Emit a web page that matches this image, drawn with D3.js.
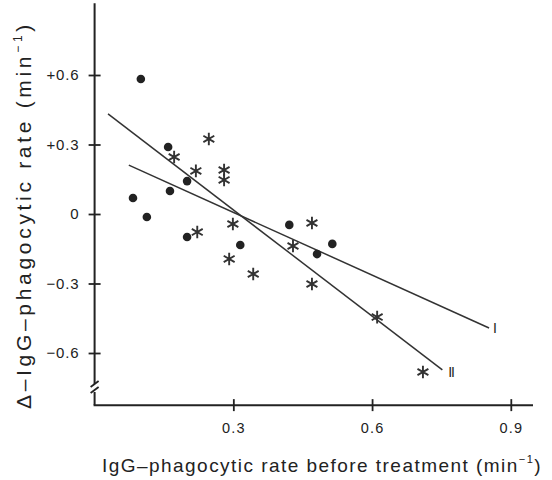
<!DOCTYPE html>
<html>
<head>
<meta charset="utf-8">
<script src="https://cdn.jsdelivr.net/npm/d3@7/dist/d3.min.js"></script>
<style>
  body { margin: 0; background: #fff; }
  text { font-family: "Liberation Sans", Arial, sans-serif; fill: #222; }
</style>
</head>
<body>
<div id="chart"></div>
<script>
// data
const xTicks = [0.3, 0.6, 0.9];
const xTickLabels = ["0.3", "0.6", "0.9"];
const yTicks = [0.6, 0.3, 0, -0.3, -0.6];
const yTickLabels = ["+0.6", "+0.3", "0", "\u22120.3", "\u22120.6"];

// filled dots
const dotX = [0.100, 0.159, 0.200, 0.163, 0.083, 0.113, 0.200, 0.315, 0.421, 0.514, 0.481];
const dotY = [0.583, 0.289, 0.142, 0.099, 0.069, -0.013, -0.099, -0.134, -0.047, -0.129, -0.173];

// asterisks
const starX = [0.247, 0.172, 0.219, 0.280, 0.280, 0.299, 0.222, 0.470, 0.429, 0.291, 0.343, 0.470, 0.611, 0.710];
const starY = [0.324, 0.246, 0.186, 0.190, 0.147, -0.043, -0.078, -0.039, -0.138, -0.194, -0.259, -0.302, -0.445, -0.682];

// regression lines (end points)
const lineIX = [0.074, 0.853];
const lineIY = [0.211, -0.492];
const lineIIX = [0.029, 0.752];
const lineIIY = [0.432, -0.673];

const xMax = 0.948;
const yTop = 0.91, yBottom = -0.825;

// spread a text out to a given length with letter-spacing
function fit_text(sel, target) {
    const n = sel.text().length;
    const len = sel.node().getComputedTextLength();
    sel.attr("letter-spacing", Math.max(0, (target - len) / n));
}

function draw_chart(id) {
    const W = 552, H = 480;
    const ink = "#222";

    const svg = d3.select("#" + id)
        .append("svg")
        .attr("width", W)
        .attr("height", H);

    // scales
    const x = d3.scaleLinear().domain([0, xMax]).range([94.6, 533]);
    const y = d3.scaleLinear().domain([-0.6, 0.6]).range([353, 75]);

    const x0 = x(0), yb = y(yBottom);

    // y axis line with break
    svg.append("line")
        .attr("x1", x0).attr("x2", x0)
        .attr("y1", y(yTop)).attr("y2", 384)
        .attr("stroke", ink).attr("stroke-width", 2);
    svg.append("line")
        .attr("x1", x0).attr("x2", x0)
        .attr("y1", 392).attr("y2", yb)
        .attr("stroke", ink).attr("stroke-width", 2);
    // break marks
    [383, 389].forEach(function(yy) {
        svg.append("line")
            .attr("x1", x0 - 4).attr("y1", yy + 4)
            .attr("x2", x0 + 4).attr("y2", yy - 2)
            .attr("stroke", ink).attr("stroke-width", 1.8);
    });

    // x axis line
    svg.append("line")
        .attr("x1", x0 - 1).attr("x2", x(xMax))
        .attr("y1", yb).attr("y2", yb)
        .attr("stroke", ink).attr("stroke-width", 2);

    // y ticks
    const yAxis = d3.axisLeft(y)
        .tickValues(yTicks)
        .tickSize(6)
        .tickPadding(9)
        .tickFormat((d, i) => yTickLabels[i]);
    const gy = svg.append("g")
        .attr("transform", `translate(${x0},0)`)
        .call(yAxis);
    gy.select(".domain").remove();
    gy.selectAll(".tick line").attr("x1", 6).attr("x2", -6)
        .attr("stroke", ink).attr("stroke-width", 1.8);
    gy.selectAll(".tick text")
        .attr("font-size", 15).attr("letter-spacing", 0.9)
        .attr("font-family", "Liberation Sans, Arial, sans-serif")
        .attr("fill", ink);

    // x ticks
    const xAxis = d3.axisBottom(x)
        .tickValues(xTicks)
        .tickSize(6)
        .tickPadding(12)
        .tickFormat((d, i) => xTickLabels[i]);
    const gx = svg.append("g")
        .attr("transform", `translate(0,${yb})`)
        .call(xAxis);
    gx.select(".domain").remove();
    gx.selectAll(".tick line").attr("y1", -6).attr("y2", 6)
        .attr("stroke", ink).attr("stroke-width", 1.8);
    gx.selectAll(".tick text")
        .attr("font-size", 14.5).attr("letter-spacing", 1.2)
        .attr("font-family", "Liberation Sans, Arial, sans-serif")
        .attr("fill", ink);

    // regression lines
    const line = d3.line().x(d => x(d[0])).y(d => y(d[1]));
    [[lineIX, lineIY], [lineIIX, lineIIY]].forEach(function(l) {
        svg.append("path")
            .datum(d3.zip(l[0], l[1]))
            .attr("d", line)
            .attr("fill", "none")
            .attr("stroke", "#333")
            .attr("stroke-width", 1.5);
    });

    // line labels
    svg.append("text")
        .attr("x", x(lineIX[1]) + 4).attr("y", y(lineIY[1]) + 5)
        .attr("font-family", "Liberation Serif, serif")
        .attr("font-size", 14)
        .attr("fill", "#333")
        .text("I");
    svg.append("text")
        .attr("x", x(lineIIX[1]) + 6).attr("y", y(lineIIY[1]) + 7)
        .attr("font-family", "Liberation Serif, serif")
        .attr("font-size", 14)
        .attr("letter-spacing", -1.2)
        .attr("fill", "#333")
        .text("II");

    // dots
    svg.selectAll(".dot")
        .data(d3.zip(dotX, dotY))
        .enter()
        .append("circle")
        .attr("class", "dot")
        .attr("cx", d => x(d[0]))
        .attr("cy", d => y(d[1]))
        .attr("r", 4.3)
        .attr("fill", ink);

    // asterisks
    const r = 6.3;
    const star = d3.range(3).map(function(k) {
        const a = Math.PI / 2 + k * Math.PI / 3;
        const dx = r * Math.cos(a), dy = r * Math.sin(a);
        return `M${-dx},${-dy}L${dx},${dy}`;
    }).join("");
    svg.selectAll(".star")
        .data(d3.zip(starX, starY))
        .enter()
        .append("path")
        .attr("class", "star")
        .attr("transform", d => `translate(${x(d[0])},${y(d[1])})`)
        .attr("d", star)
        .attr("fill", "none")
        .attr("stroke", "#333")
        .attr("stroke-width", 1.9);

    // axis titles
    const xt = svg.append("text")
        .attr("x", 102).attr("y", 472)
        .attr("font-size", 19)
        .attr("fill", ink);
    xt.append("tspan").text("IgG\u2013phagocytic rate before treatment (min");
    xt.append("tspan").attr("font-size", 11).attr("dy", -9).text("\u22121");
    xt.append("tspan").attr("dy", 9).text(")");
    fit_text(xt, 440);

    const yt = svg.append("text")
        .attr("transform", "translate(31,409) rotate(-90)")
        .attr("font-size", 21)
        .attr("fill", ink);
    yt.append("tspan").text("\u0394\u2013IgG\u2013phagocytic rate (min");
    yt.append("tspan").attr("font-size", 12).attr("dy", -9).text("\u22121");
    yt.append("tspan").attr("dy", 9).text(")");
    fit_text(yt, 388);
}

draw_chart("chart");
</script>
</body>
</html>
